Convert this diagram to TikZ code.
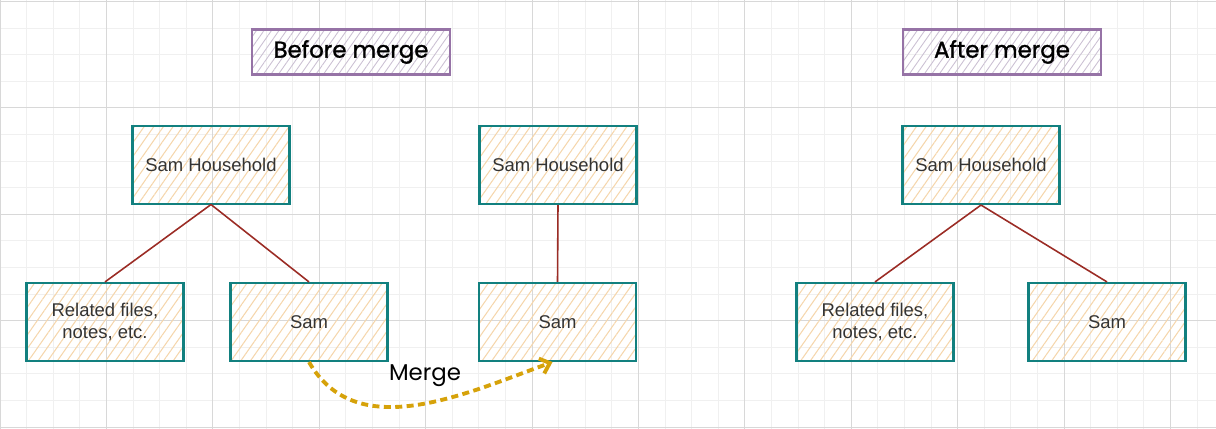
\documentclass[tikz,border=0pt]{standalone}
\usepackage{fontspec}
\setmainfont{Liberation Sans}
\newfontfamily\handfont{Poppins}
\newfontfamily\handboldfont{Poppins}[FakeBold=1.4]
\usetikzlibrary{patterns.meta,arrows.meta}
\definecolor{boxline}{HTML}{12807F}
\definecolor{boxhatch}{HTML}{F5D6AC}
\definecolor{titleline}{HTML}{9673A6}
\definecolor{titlehatch}{HTML}{CBC0D3}
\definecolor{linkred}{HTML}{9B2C25}
\definecolor{mergegold}{HTML}{D6A20A}
\definecolor{gridminor}{HTML}{F0F0F0}
\definecolor{gridmajor}{HTML}{D8D8D8}
\definecolor{textgray}{HTML}{333333}

\begin{document}
\begin{tikzpicture}
\tikzstyle{minor}=[gridminor,line width=0.5pt];
\tikzstyle{major}=[gridmajor,line width=0.5pt];
\tikzstyle{item}=[draw=boxline,line width=1.2pt,minimum width=3.14cm,minimum height=1.56cm,align=center,text=textgray,font=\fontsize{10.5}{12.5}\selectfont,pattern={Lines[angle=55,distance=4.5pt,line width=0.6pt]},pattern color=boxhatch];
\tikzstyle{title}=[draw=titleline,line width=1.2pt,minimum width=3.96cm,minimum height=0.9cm,font=\handboldfont\fontsize{13}{15}\selectfont,pattern={Lines[angle=55,distance=3.5pt,line width=0.5pt]},pattern color=titlehatch];
\tikzstyle{link}=[linkred,line width=0.9pt];
\tikzstyle{merge}=[mergegold,line width=2.2pt,dash pattern=on 4pt off 2.5pt,-{Straight Barb[length=5pt,width=9pt]}];
\useasboundingbox (0,0) rectangle (24.32,-8.58);
\foreach \i in {0,...,45} \draw [minor] ({\i*0.532},0) -- ({\i*0.532},-8.58);
\foreach \j in {0,...,16} \draw [minor] (0,{-0.028-\j*0.532}) -- (24.32,{-0.028-\j*0.532});
\foreach \i in {0,...,11} \draw [major] ({\i*2.128},0) -- ({\i*2.128},-8.58);
\foreach \j in {0,...,4} \draw [major] (0,{-0.028-\j*2.128}) -- (24.32,{-0.028-\j*2.128});

\node [title] (t1) at (7.02,-1.04) {Before merge};
\node [title] (t2) at (20.04,-1.04) {After merge};

\node [item] (v1) at (4.22,-3.3) {Sam Household};
\node [item] (v2) at (2.1,-6.44) {Related files,\\notes, etc.};
\node [item] (v3) at (6.18,-6.44) {Sam};
\node [item] (v4) at (11.16,-3.3) {Sam Household};
\node [item] (v5) at (11.15,-6.44) {Sam};

\node [item] (v6) at (19.62,-3.3) {Sam Household};
\node [item] (v7) at (17.5,-6.44) {Related files,\\notes, etc.};
\node [item] (v8) at (22.14,-6.44) {Sam};

\node [font=\handfont\fontsize{13}{15}\selectfont] (m) at (8.5,-7.52) {Merge};

\draw [link] (v1.south) edge (v2.north);
\draw [link] (v1.south) edge (v3.north);
\draw [link] (v4.south) edge (v5.north);
\draw [link] (v6.south) edge (v7.north);
\draw [link] (v6.south) edge (v8.north);
\draw [merge] (v3.south) to[out=-60,in=200] ([xshift=-0.1cm]v5.south);
\end{tikzpicture}
\end{document}
